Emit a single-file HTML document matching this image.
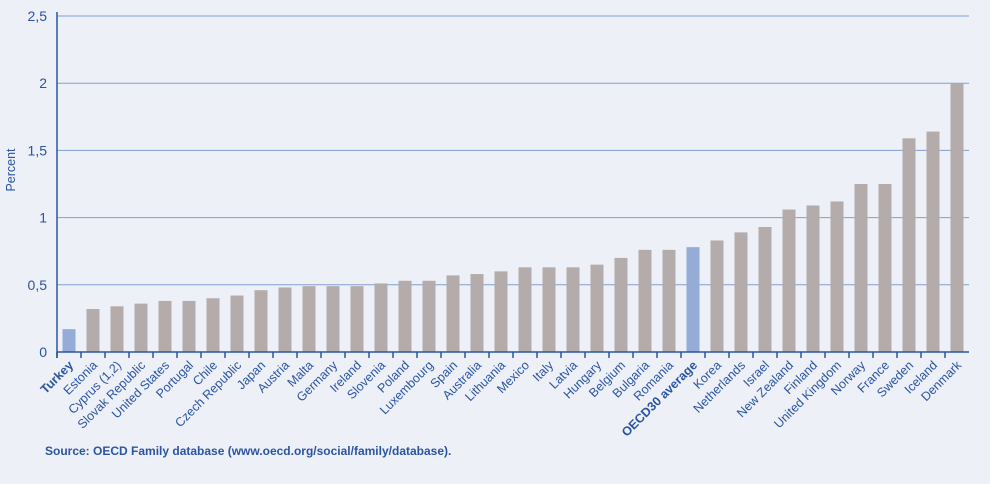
<!DOCTYPE html>
<html><head><meta charset="utf-8"><style>
body{margin:0;background:#eef0f8;}
svg{display:block;font-family:"Liberation Sans",sans-serif;}
</style></head><body>
<svg width="990" height="484">
<rect width="990" height="484" fill="#eef0f8"/>
<g id="grid"></g><g id="bars"></g><g id="axes"></g><g id="labels"></g>
<text x="15" y="170" transform="rotate(-90 15 170)" text-anchor="middle" font-size="12.5" fill="#2a55a0">Percent</text>
<text x="45" y="455" font-size="12" font-weight="bold" fill="#2a55a0">Source: OECD Family database (www.oecd.org/social/family/database).</text>
</svg>
<script>
const categories=["Turkey","Estonia","Cyprus (1,2)","Slovak Republic","United States","Portugal","Chile","Czech Republic","Japan","Austria","Malta","Germany","Ireland","Slovenia","Poland","Luxembourg","Spain","Australia","Lithuania","Mexico","Italy","Latvia","Hungary","Belgium","Bulgaria","Romania","OECD30 average","Korea","Netherlands","Israel","New Zealand","Finland","United Kingdom","Norway","France","Sweden","Iceland","Denmark"];
const values=[0.17,0.32,0.34,0.36,0.38,0.38,0.40,0.42,0.46,0.48,0.49,0.49,0.49,0.51,0.53,0.53,0.57,0.58,0.60,0.63,0.63,0.63,0.65,0.70,0.76,0.76,0.78,0.83,0.89,0.93,1.06,1.09,1.12,1.25,1.25,1.59,1.64,2.0];
const highlighted=["Turkey","OECD30 average"];
const yTicks=[0,0.5,1,1.5,2,2.5];
const yTickLabels=["0","0,5","1","1,5","2","2,5"];
const NS="http://www.w3.org/2000/svg";
const X0=57,X1=969,Y0=352,Y1=16,YMAX=2.5,band=24;
const y=v=>Y0-(v/YMAX)*(Y0-Y1);
const x=i=>X0+band*i+band/2;
function mk(t,a,p){const e=document.createElementNS(NS,t);for(const k in a)e.setAttribute(k,a[k]);p.appendChild(e);return e;}
const grid=document.getElementById('grid'),bars=document.getElementById('bars'),axes=document.getElementById('axes'),labels=document.getElementById('labels');
yTicks.forEach((t,i)=>{
 if(t>0){const l=mk('line',{x1:X0,x2:X1,y1:y(t),y2:y(t),stroke:'#7f9fd6','stroke-width':1},grid);
 
 }
 const tx=mk('text',{x:X0-10,y:y(t)+5,'text-anchor':'end','font-size':14,fill:'#2a55a0'},axes);
 tx.textContent=yTickLabels[i];
 
 
});
categories.forEach((c,i)=>{
 const hi=highlighted.includes(c);
 const r=mk('rect',{x:x(i)-6.5,y:y(values[i]),width:13,height:Y0-y(values[i]),fill:hi?'#94acd6':'#b4abab'},bars);
 
 
 const tk=mk('line',{x1:X0+band*i,x2:X0+band*i,y1:Y0,y2:Y0+6,stroke:'#2a55a0','stroke-width':1.5},axes);
 
 
 const lx=x(i)+5,ly=Y0+14;
 const t=mk('text',{x:lx,y:ly,'text-anchor':'end','font-size':12.5,fill:'#2a55a0','font-weight':hi?'bold':'normal',transform:`rotate(-45 ${lx} ${ly})`},labels);
 t.textContent=c;
 
 
});
const ax=mk('line',{x1:X0,x2:X1,y1:Y0,y2:Y0,stroke:'#2a55a0','stroke-width':1.5},axes);


const ay=mk('line',{x1:X0,x2:X0,y1:Y1-4,y2:Y0+6,stroke:'#2a55a0','stroke-width':1.5},axes);


</script>
</body></html>
